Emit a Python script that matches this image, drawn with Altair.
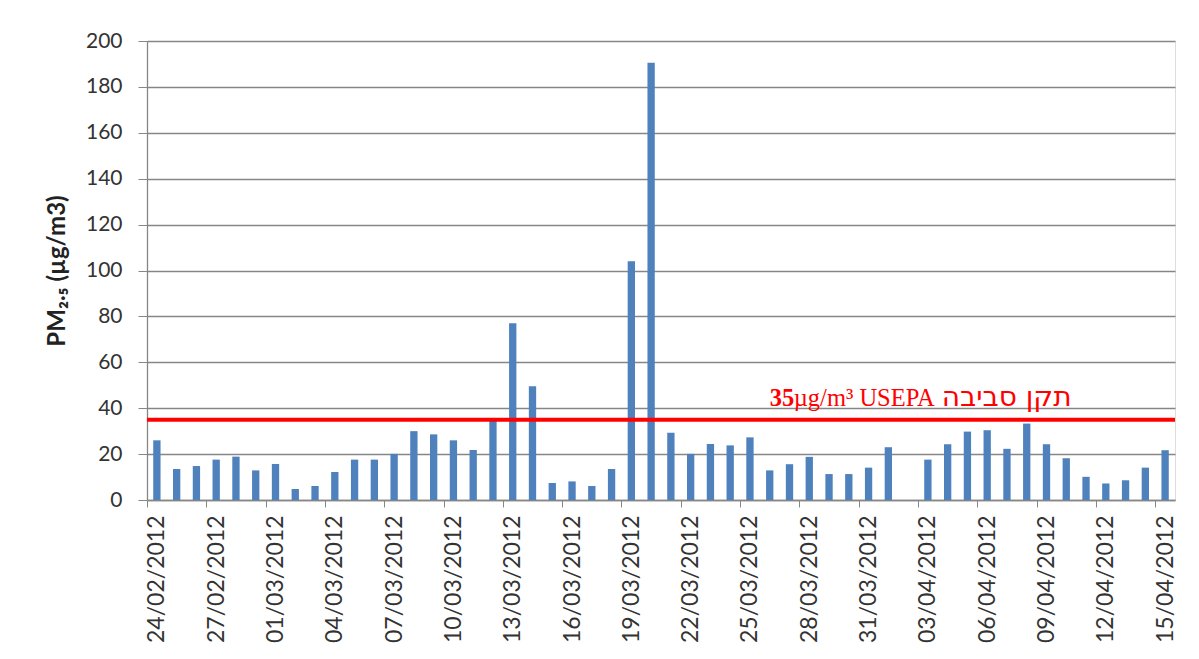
import altair as alt
import pandas as pd

dates = [
    "24/02/2012", "25/02/2012", "26/02/2012", "27/02/2012", "28/02/2012", "29/02/2012",
    "01/03/2012", "02/03/2012", "03/03/2012", "04/03/2012", "05/03/2012", "06/03/2012",
    "07/03/2012", "08/03/2012", "09/03/2012", "10/03/2012", "11/03/2012", "12/03/2012",
    "13/03/2012", "14/03/2012", "15/03/2012", "16/03/2012", "17/03/2012", "18/03/2012",
    "19/03/2012", "20/03/2012", "21/03/2012", "22/03/2012", "23/03/2012", "24/03/2012",
    "25/03/2012", "26/03/2012", "27/03/2012", "28/03/2012", "29/03/2012", "30/03/2012",
    "31/03/2012", "01/04/2012", "02/04/2012", "03/04/2012", "04/04/2012", "05/04/2012",
    "06/04/2012", "07/04/2012", "08/04/2012", "09/04/2012", "10/04/2012", "11/04/2012",
    "12/04/2012", "13/04/2012", "14/04/2012", "15/04/2012",
]

pm25 = [
    26.0, 13.5, 14.8, 17.6, 18.9, 12.9,
    15.7, 4.8, 6.1, 12.2, 17.6, 17.6,
    20.1, 30.0, 28.6, 26.0, 21.8, 34.5,
    77.0, 49.6, 7.4, 8.1, 6.1, 13.5,
    104.0, 190.5, 29.3, 20.1, 24.4, 23.8,
    27.3, 12.9, 15.6, 18.8, 11.3, 11.3,
    14.1, 23.0, None, 17.6, 24.3, 29.8,
    30.4, 22.3, 33.3, 24.3, 18.2, 10.1,
    7.2, 8.6, 14.1, 21.7,
]

tick_labels = [
    "24/02/2012", "27/02/2012", "01/03/2012", "04/03/2012", "07/03/2012",
    "10/03/2012", "13/03/2012", "16/03/2012", "19/03/2012", "22/03/2012",
    "25/03/2012", "28/03/2012", "31/03/2012", "03/04/2012", "06/04/2012",
    "09/04/2012", "12/04/2012", "15/04/2012",
]
y_ticks = [0, 20, 40, 60, 80, 100, 120, 140, 160, 180, 200]

standard_value = 35
standard_anchor = "26/03/2012"
standard_num = "35"
standard_unit = "µg/m³ USEPA"
standard_heb = "תקן סביבה"

df = pd.DataFrame({"date": dates, "pm": pm25})

gray = "#868686"
label_font = "Lato"
PLOT_W = 1028
STEP = PLOT_W / len(dates)

x_enc = alt.X(
    "date:N",
    sort=dates,
    scale=alt.Scale(paddingInner=0.63, paddingOuter=0.315),
    axis=alt.Axis(
        title=None,
        values=tick_labels,
        tickOffset=-STEP / 2,
        labelOffset=STEP / 2,
        labelAngle=270,
        labelAlign="right",
        labelBaseline="middle",
        labelFont=label_font,
        labelFontSize=23,
        labelColor="#333333",
        labelPadding=8,
        tickSize=7,
        tickColor=gray,
        domainColor=gray,
        domainWidth=1.3,
        grid=False,
    ),
)

bars = alt.Chart(df).mark_bar(color="#4F81BD").encode(
    x=x_enc,
    y=alt.Y(
        "pm:Q",
        scale=alt.Scale(domain=[0, 200], nice=False),
        axis=alt.Axis(
            title="PM₂.₅ (µg/m3)",
            titleFont=label_font,
            titleFontSize=24,
            titleFontWeight="bold",
            titleColor="#222222",
            titlePadding=16,
            values=y_ticks,
            labelFont=label_font,
            labelFontSize=21,
            labelColor="#333333",
            labelPadding=16,
            tickSize=9,
            tickColor=gray,
            domainColor=gray,
            domainWidth=1.3,
            grid=True,
            gridColor=gray,
            gridWidth=1.3,
        ),
    ),
)

line_df = pd.DataFrame({"v": [standard_value]})
rule = alt.Chart(line_df).mark_rule(color="#FF0000", strokeWidth=4).encode(
    y=alt.Y("v:Q")
)

txt_df = pd.DataFrame({"date": [standard_anchor], "v": [standard_value],
                       "n": [standard_num], "u": [standard_unit], "h": [standard_heb]})
base_txt = alt.Chart(txt_df).encode(x=alt.X("date:N", sort=dates), y=alt.Y("v:Q"))
num = base_txt.mark_text(
    align="left", baseline="alphabetic", dy=-14, font="Liberation Serif",
    fontSize=24.5, fontWeight="bold", color="#FF0000"
).encode(text="n:N")
unit = base_txt.mark_text(
    align="left", baseline="alphabetic", dx=24, dy=-14, font="Liberation Serif",
    fontSize=24.5, color="#FF0000"
).encode(text="u:N")
heb = base_txt.mark_text(
    align="left", baseline="alphabetic", dx=172, dy=-14, font="DejaVu Sans",
    fontSize=28, color="#FF0000"
).encode(text="h:N")

chart = alt.layer(bars, rule, num, unit, heb).properties(
    width=PLOT_W,
    height=459,
    autosize=alt.AutoSizeParams(type="none"),
    padding={"left": 139, "top": 33, "right": 16, "bottom": 150},
).configure_view(strokeWidth=0).configure(background="white")

chart.save("out.html", embed_options={"renderer": "svg", "actions": False})
